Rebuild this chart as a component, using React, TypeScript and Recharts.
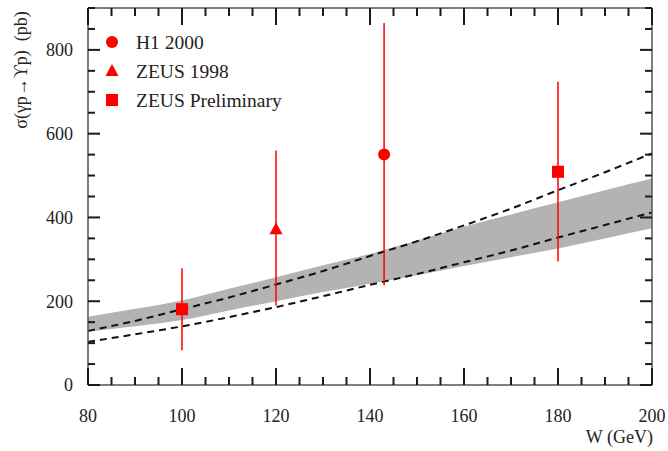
import { ComposedChart, Area, Line, Scatter, XAxis, YAxis, ErrorBar } from 'recharts';

// W grid for the model curves (GeV)
const wGrid = [80, 90, 100, 110, 120, 130, 140, 150, 160, 170, 180, 190, 200];
// grey band
const bandLow = [127, 140, 155, 178, 200, 222, 242, 262, 284, 305, 326, 350, 374];
const bandHigh = [163, 182, 202, 230, 257, 286, 313, 345, 378, 407, 436, 465, 493];
// dashed curves
const dashUpper = [129, 153, 181, 209, 240, 272, 308, 343, 381, 421, 465, 508, 553];
const dashLower = [103, 121, 140, 162, 186, 212, 239, 265, 293, 321, 352, 382, 412];

// measurements: W, sigma, error bar low / high (pb)
const h1W = [143];
const h1Sigma = [550];
const h1Lo = [238];
const h1Hi = [864];

const zeus98W = [120];
const zeus98Sigma = [372];
const zeus98Lo = [190];
const zeus98Hi = [560];

const zeusPrelW = [100, 180];
const zeusPrelSigma = [181, 509];
const zeusPrelLo = [83, 295];
const zeusPrelHi = [279, 724];

const xTicks = [80, 85, 90, 95, 100, 105, 110, 115, 120, 125, 130, 135, 140, 145, 150, 155, 160, 165, 170, 175, 180, 185, 190, 195, 200];
const yTicks = [0, 50, 100, 150, 200, 250, 300, 350, 400, 450, 500, 550, 600, 650, 700, 750, 800, 850, 900];

const curves = wGrid.map((w, i) => ({
  w,
  band: [bandLow[i], bandHigh[i]],
  upper: dashUpper[i],
  lower: dashLower[i],
}));

const points = (ws: number[], s: number[], lo: number[], hi: number[]) =>
  ws.map((w, i) => ({ w, sigma: s[i], err: [s[i] - lo[i], hi[i] - s[i]] }));

const h1Data = points(h1W, h1Sigma, h1Lo, h1Hi);
const zeus98Data = points(zeus98W, zeus98Sigma, zeus98Lo, zeus98Hi);
const zeusPrelData = points(zeusPrelW, zeusPrelSigma, zeusPrelLo, zeusPrelHi);

const FONT = '"Liberation Serif", "Times New Roman", serif';
const RED = '#ff0000';
const TICK = '#1a1a1a';
const FRAME = { stroke: '#555', strokeWidth: 1.5 };

const BottomTick = (props: any) => {
  const { x, y, payload } = props;
  const major = payload.value % 20 === 0;
  return (
    <g>
      <line x1={x} x2={x} y1={y} y2={y - (major ? 17 : 8)} stroke={TICK} strokeWidth={2} />
      {major && (
        <text x={x} y={y + 31} dy="0.35em" textAnchor="middle" fontFamily={FONT} fontSize={18} fill="#222">
          {payload.value}
        </text>
      )}
    </g>
  );
};

const TopTick = (props: any) => {
  const { x, y, payload } = props;
  const major = payload.value % 20 === 0;
  return <line x1={x} x2={x} y1={y} y2={y + (major ? 17 : 8)} stroke={TICK} strokeWidth={2} />;
};

const LeftTick = (props: any) => {
  const { x, y, payload } = props;
  const major = payload.value % 200 === 0;
  return (
    <g>
      <line x1={x} x2={x + (major ? 12 : 7)} y1={y} y2={y} stroke={TICK} strokeWidth={2} />
      {major && (
        <text x={x - 15} y={y} dy="0.35em" textAnchor="end" fontFamily={FONT} fontSize={18} fill="#222">
          {payload.value}
        </text>
      )}
    </g>
  );
};

const RightTick = (props: any) => {
  const { x, y, payload } = props;
  const major = payload.value % 200 === 0;
  return <line x1={x} x2={x - (major ? 12 : 7)} y1={y} y2={y} stroke={TICK} strokeWidth={2} />;
};

const Circle = (p: any) => <circle cx={p.cx} cy={p.cy} r={6} fill={RED} />;
const Triangle = (p: any) => (
  <polygon points={`${p.cx},${p.cy - 7} ${p.cx - 6.5},${p.cy + 5} ${p.cx + 6.5},${p.cy + 5}`} fill={RED} />
);
const Square = (p: any) => <rect x={p.cx - 6} y={p.cy - 6} width={12} height={12} fill={RED} />;

const legendRows = [
  { name: 'H1 2000', shape: 'circle' },
  { name: 'ZEUS 1998', shape: 'triangle' },
  { name: 'ZEUS Preliminary', shape: 'square' },
];

export default function App() {
  return (
    <div style={{ position: 'absolute', left: 0, top: 0, width: 668, height: 451, background: '#fff' }}>
      <ComposedChart width={668} height={451} data={curves} margin={{ top: 7, right: 15, bottom: 36, left: 28 }}>
        <XAxis
          dataKey="w"
          type="number"
          domain={[80, 200]}
          ticks={xTicks}
          interval={0}
          tickSize={0}
          tickMargin={0}
          tickLine={false}
          axisLine={FRAME}
          tick={BottomTick}
          height={30}
          allowDataOverflow
        />
        <XAxis
          xAxisId="top"
          orientation="top"
          dataKey="w"
          type="number"
          domain={[80, 200]}
          ticks={xTicks}
          interval={0}
          tickSize={0}
          tickMargin={0}
          tickLine={false}
          axisLine={FRAME}
          tick={TopTick}
          height={1}
          allowDataOverflow
        />
        <YAxis
          type="number"
          domain={[0, 900]}
          ticks={yTicks}
          interval={0}
          tickSize={0}
          tickMargin={0}
          tickLine={false}
          axisLine={FRAME}
          tick={LeftTick}
          width={60}
          allowDataOverflow
        />
        <YAxis
          yAxisId="right"
          orientation="right"
          type="number"
          domain={[0, 900]}
          ticks={yTicks}
          interval={0}
          tickSize={0}
          tickMargin={0}
          tickLine={false}
          axisLine={FRAME}
          tick={RightTick}
          width={1}
          allowDataOverflow
        />
        <Area
          dataKey="band"
          type="monotone"
          stroke="none"
          fill="#b3b3b3"
          fillOpacity={1}
          isAnimationActive={false}
          legendType="none"
        />
        <Line
          dataKey="upper"
          type="monotone"
          stroke="#111"
          strokeWidth={2}
          strokeDasharray="7 5"
          dot={false}
          isAnimationActive={false}
          legendType="none"
        />
        <Line
          dataKey="lower"
          type="monotone"
          stroke="#111"
          strokeWidth={2}
          strokeDasharray="7 5"
          dot={false}
          isAnimationActive={false}
          legendType="none"
        />
        <Scatter name="H1 2000" data={h1Data} dataKey="sigma" xAxisId="top" yAxisId="right" shape={Circle} isAnimationActive={false}>
          <ErrorBar dataKey="err" direction="y" width={0} stroke={RED} strokeWidth={1.5} />
        </Scatter>
        <Scatter name="ZEUS 1998" data={zeus98Data} dataKey="sigma" xAxisId="top" yAxisId="right" shape={Triangle} isAnimationActive={false}>
          <ErrorBar dataKey="err" direction="y" width={0} stroke={RED} strokeWidth={1.5} />
        </Scatter>
        <Scatter name="ZEUS Preliminary" data={zeusPrelData} dataKey="sigma" xAxisId="top" yAxisId="right" shape={Square} isAnimationActive={false}>
          <ErrorBar dataKey="err" direction="y" width={0} stroke={RED} strokeWidth={1.5} />
        </Scatter>
      </ComposedChart>
      <svg
        width={668}
        height={451}
        style={{ position: 'absolute', left: 0, top: 0, pointerEvents: 'none' }}
      >
        {legendRows.map((r, i) => {
          const cy = 42 + i * 29;
          const p = { cx: 112, cy };
          return (
            <g key={r.name}>
              {r.shape === 'circle' && <Circle {...p} />}
              {r.shape === 'triangle' && <Triangle {...p} />}
              {r.shape === 'square' && <Square {...p} />}
              <text x={136} y={cy} dy="0.35em" fontFamily={FONT} fontSize={19.5} fill="#222">
                {r.name}
              </text>
            </g>
          );
        })}
        <text
          transform="translate(21,70) rotate(-90)"
          textAnchor="middle"
          dy="0.35em"
          fontFamily={FONT}
          fontSize={18}
          fill="#222"
          xmlSpace="preserve"
        >
          σ(γp→ϒp)  (pb)
        </text>
        <text x={653} y={437} dy="0.35em" textAnchor="end" fontFamily={FONT} fontSize={18} fill="#222">
          W (GeV)
        </text>
      </svg>
    </div>
  );
}
